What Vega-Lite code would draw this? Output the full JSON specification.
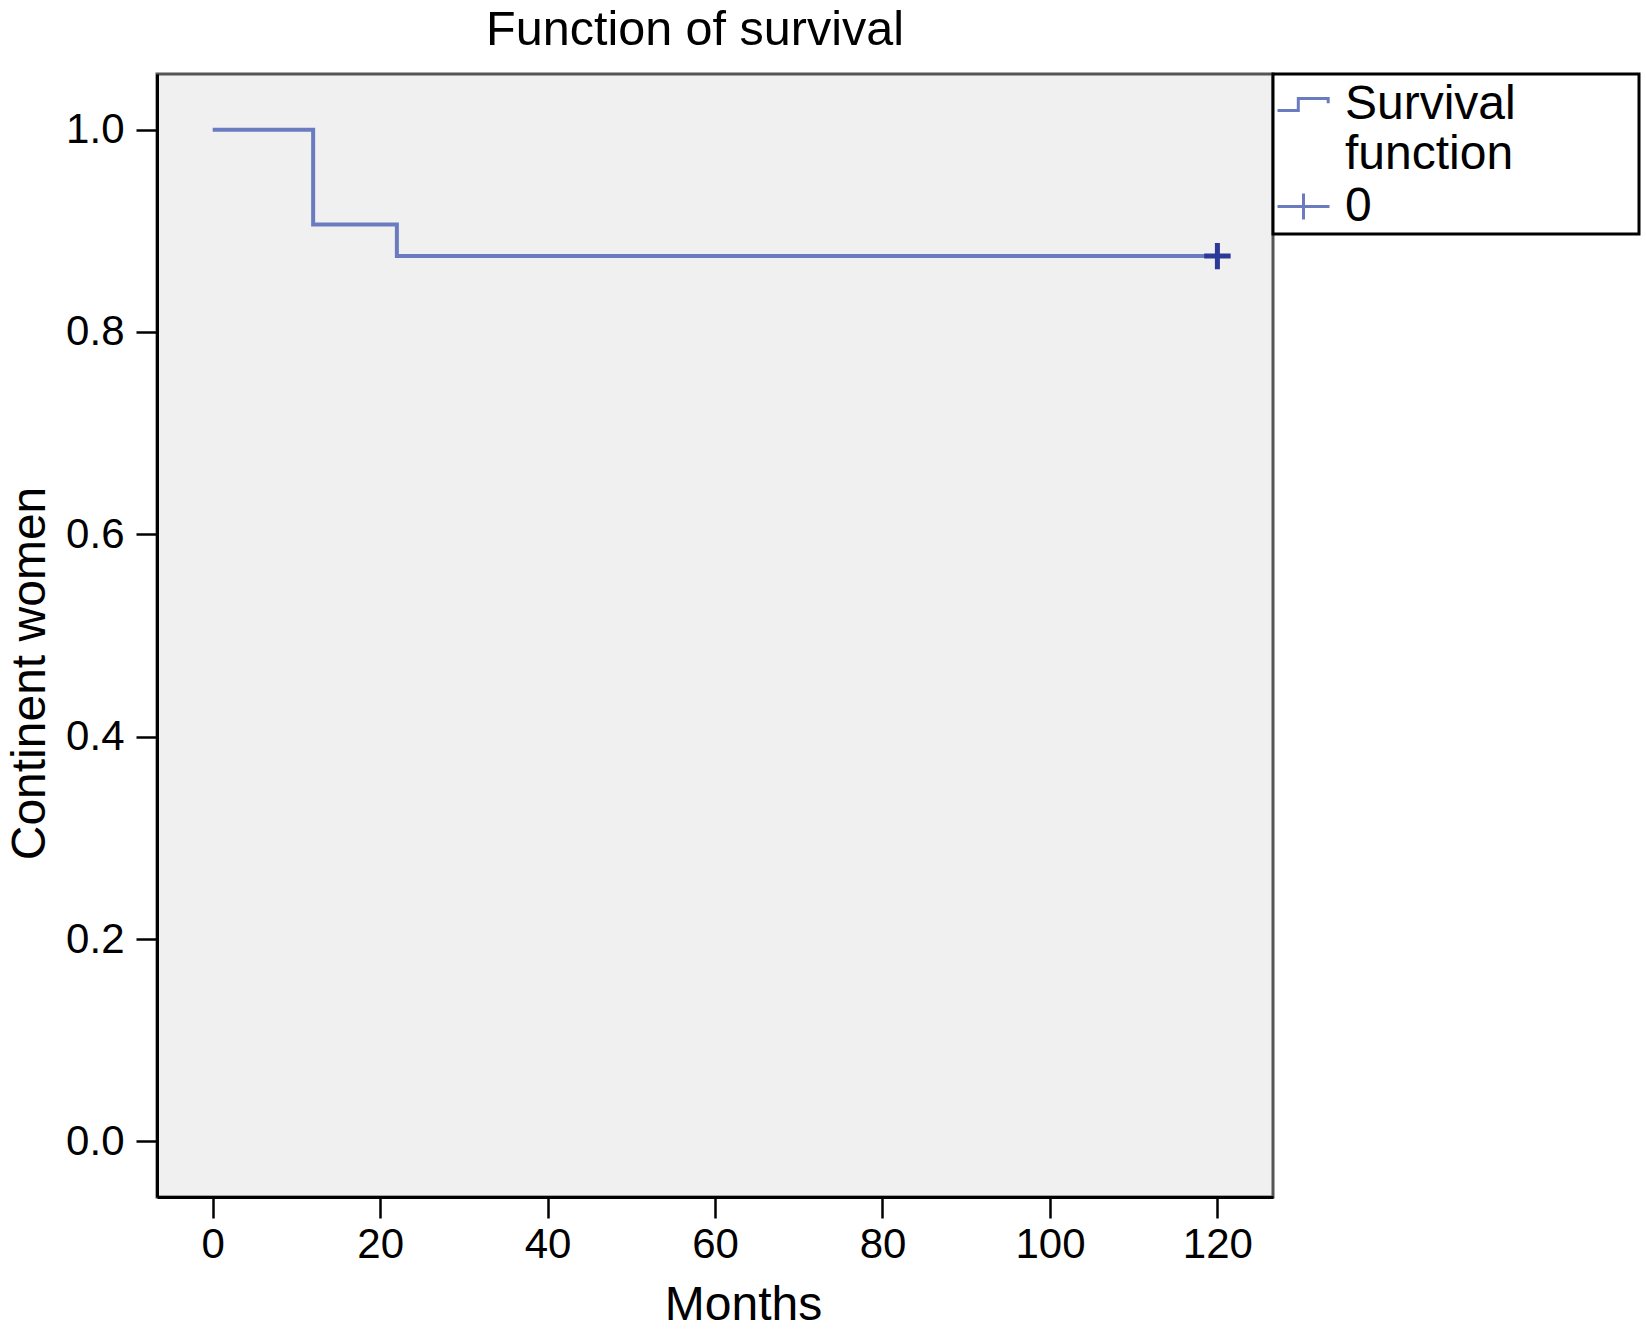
{
  "$schema": "https://vega.github.io/schema/vega-lite/v6.json",
  "autosize": {"type": "none"},
  "padding": {"left": 157, "top": 74, "right": 373, "bottom": 132},
  "width": 1116,
  "height": 1123,
  "background": "white",
  "title": {
    "text": "Function of survival",
    "anchor": "middle",
    "frame": "group",
    "dx": -20,
    "dy": 53,
    "baseline": "bottom",
    "offset": 22,
    "fontSize": 48.5,
    "fontWeight": "normal",
    "font": "Liberation Sans",
    "color": "black"
  },
  "data": {
    "values": [
      {"month": 0, "survival": 1.0, "series": "Survival function", "kind": "step"},
      {"month": 12, "survival": 0.90625, "series": "Survival function", "kind": "step"},
      {"month": 22, "survival": 0.875, "series": "Survival function", "kind": "step"},
      {"month": 120, "survival": 0.875, "series": "Survival function", "kind": "step"},
      {"month": 120, "survival": 0.875, "series": "0", "kind": "censored"}
    ]
  },
  "encoding": {
    "x": {
      "field": "month", "type": "quantitative",
      "scale": {"domain": [-6.65, 126.64], "nice": false, "zero": false},
      "axis": {
        "title": "Months", "values": [0, 20, 40, 60, 80, 100, 120],
        "titleX": 586, "titleY": 122, "titleBaseline": "alphabetic", "titleFontSize": 48,
        "labelFontSize": 42, "labelPadding": 6
      }
    },
    "y": {
      "field": "survival", "type": "quantitative",
      "scale": {"domain": [-0.055, 1.055], "nice": false, "zero": false},
      "axis": {
        "title": "Continent women", "values": [0, 0.2, 0.4, 0.6, 0.8, 1.0], "format": ".1f",
        "titleX": -103, "titleY": 599, "titleBaseline": "bottom", "titleAngle": -90, "titleFontSize": 48,
        "labelFontSize": 42, "labelPadding": 12
      }
    }
  },
  "layer": [
    {
      "transform": [{"filter": "datum.kind == 'step'"}],
      "mark": {"type": "line", "interpolate": "step-after", "color": "#6b7bbf", "strokeWidth": 4}
    },
    {
      "transform": [{"filter": "datum.kind == 'censored'"}],
      "mark": {"type": "point", "shape": "M-1,0H1M0,-1V1", "size": 700, "filled": false, "color": "#2a3a96", "strokeWidth": 5, "opacity": 1}
    },
    {
      "mark": {"type": "point", "filled": false, "opacity": 0},
      "encoding": {
        "shape": {
          "field": "series", "type": "nominal",
          "scale": {
            "domain": ["Survival function", "0"],
            "range": ["M-1,0.23H-0.2V-0.23H0.95V-0.05", "M-1,0H1M0,-0.5V0.5"]
          },
          "legend": {
            "title": null,
            "orient": "none",
            "legendX": 1116,
            "legendY": 0,
            "labelExpr": "datum.label == 'Survival function' ? ['Survival\u00a0\u00a0\u00a0\u00a0\u00a0\u00a0\u00a0\u00a0\u00a0\u200b', 'function'] : datum.label",
            "labelFontSize": 48,
            "labelFont": "Liberation Sans",
            "labelColor": "black",
            "labelBaseline": "middle",
            "labelLimit": 600,
            "labelOffset": 14,
            "symbolSize": 2704,
            "symbolStrokeColor": "#6b7bbf",
            "symbolStrokeWidth": 3,
            "symbolFillColor": "transparent",
            "symbolOpacity": 1,
            "strokeColor": "black",
            "fillColor": "white",
            "padding": 3,
            "rowPadding": -8
          }
        }
      }
    }
  ],
  "config": {
    "font": "Liberation Sans",
    "view": {"fill": "#f0f0f0", "stroke": "#555555", "strokeWidth": 3},
    "axis": {
      "grid": false,
      "domainColor": "black", "domainWidth": 3,
      "tickColor": "black", "tickWidth": 2.5, "tickSize": 21,
      "labelColor": "black", "titleColor": "black",
      "labelFont": "Liberation Sans", "titleFont": "Liberation Sans",
      "titleFontWeight": "normal"
    },
    "legend": {"strokeWidth": 3}
  }
}
